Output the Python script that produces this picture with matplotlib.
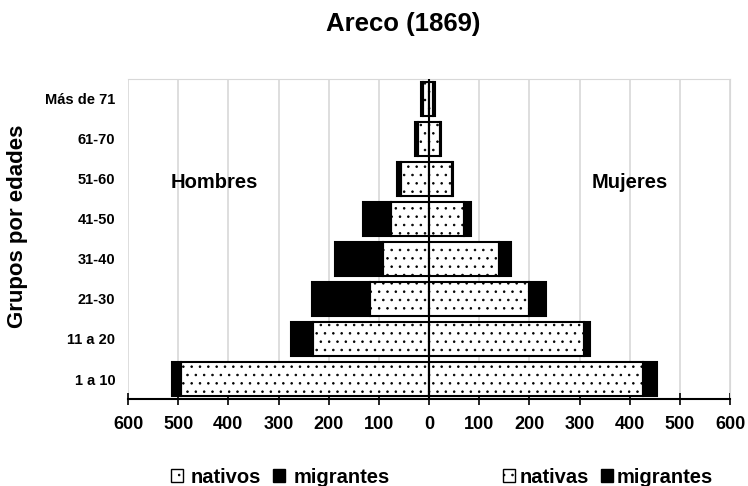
import matplotlib
matplotlib.use("Agg")
import matplotlib.pyplot as plt
from matplotlib.patches import Patch
import numpy as np

plt.rcParams['font.family'] = ['Liberation Sans', 'DejaVu Sans']
plt.rcParams['hatch.linewidth'] = 0.6

categories = ["1 a 10", "11 a 20", "21-30", "31-40", "41-50", "51-60", "61-70", "Más de 71"]
hombres_nativos = [495, 232, 117, 91, 76, 56, 22, 12]
hombres_migrantes = [17, 43, 117, 97, 56, 7, 6, 3]
mujeres_nativas = [427, 309, 199, 140, 70, 46, 21, 8]
mujeres_migrantes = [27, 11, 35, 24, 13, 2, 2, 3]
xticks = [-600, -500, -400, -300, -200, -100, 0, 100, 200, 300, 400, 500, 600]
xticklabels = ["600", "500", "400", "300", "200", "100", "0", "100", "200", "300", "400", "500", "600"]

fig = plt.figure(figsize=(7.48, 4.86), dpi=100)
ax = fig.add_axes([128/748, 1-399/486, (730-128)/748, (399-79)/486])

y = np.arange(len(categories))
h = 0.86
hn = -np.array(hombres_nativos)
hm = -np.array(hombres_migrantes)
ax.barh(y, hn, height=h, color='white', edgecolor='black', hatch='..', linewidth=1.5, zorder=3)
ax.barh(y, hm, left=hn, height=h, color='black', edgecolor='black', linewidth=1.5, zorder=3)
ax.barh(y, mujeres_nativas, height=h, color='white', edgecolor='black', hatch='..', linewidth=1.5, zorder=3)
ax.barh(y, mujeres_migrantes, left=mujeres_nativas, height=h, color='black', edgecolor='black', linewidth=1.5, zorder=3)

ax.set_xlim(-600, 600)
ax.set_ylim(-0.5, 7.5)
ax.set_xticks(xticks)
ax.set_xticklabels(xticklabels, fontsize=13, fontweight='bold')
ax.set_yticks(y)
ax.set_yticklabels(categories, fontsize=10.5, fontweight='bold')
ax.tick_params(axis='y', length=0, pad=9)
ax.tick_params(axis='x', direction='inout', length=8, width=1.2, pad=8)
ax.xaxis.grid(True, color='#d8d8d8', linewidth=1.2, zorder=0)
ax.axvline(0, color='black', linewidth=1.5, zorder=4)
for s in ['top', 'right']:
    ax.spines[s].set_color('#d8d8d8')
ax.spines['left'].set_visible(False)
ax.spines['bottom'].set_linewidth(1.5)

ax.text(-427, 4.9, "Hombres", fontsize=14.5, fontweight='bold', ha='center', va='center')
ax.text(401, 4.9, "Mujeres", fontsize=14.5, fontweight='bold', ha='center', va='center')

fig.text(403/748, 1-24/486, "Areco (1869)", fontsize=18.5, fontweight='bold', ha='center', va='center')
fig.text(18/748, 1-226/486, "Grupos por edades", fontsize=16, fontweight='bold', rotation=90, ha='center', va='center')

def leg(labels, x, tp):
    handles = [Patch(facecolor='white', edgecolor='black', hatch='..'),
               Patch(facecolor='black', edgecolor='black')]
    fig.legend(handles, labels, loc='center', bbox_to_anchor=(x, 1-477/486), ncol=2,
               frameon=False, prop={'weight': 'bold', 'size': 14.5}, handlelength=0.6,
               handleheight=0.6, handletextpad=tp, columnspacing=0.6)

leg(["nativos", "migrantes"], 280/748, 0.4)
leg(["nativas", "migrantes"], 608/748, 0.2)

fig.savefig("out.png", dpi=100)
